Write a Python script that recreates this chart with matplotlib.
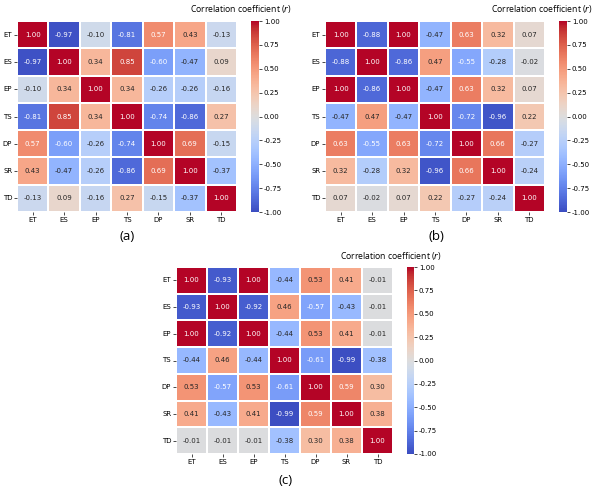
import numpy as np
import matplotlib
matplotlib.use("Agg")
import matplotlib.pyplot as plt
import seaborn as sns

labels = ["ET", "ES", "EP", "TS", "DP", "SR", "TD"]

corr_a = [
    [1.00, -0.97, -0.10, -0.81, 0.57, 0.43, -0.13],
    [-0.97, 1.00, 0.34, 0.85, -0.60, -0.47, 0.09],
    [-0.10, 0.34, 1.00, 0.34, -0.26, -0.26, -0.16],
    [-0.81, 0.85, 0.34, 1.00, -0.74, -0.86, 0.27],
    [0.57, -0.60, -0.26, -0.74, 1.00, 0.69, -0.15],
    [0.43, -0.47, -0.26, -0.86, 0.69, 1.00, -0.37],
    [-0.13, 0.09, -0.16, 0.27, -0.15, -0.37, 1.00],
]

corr_b = [
    [1.00, -0.88, 1.00, -0.47, 0.63, 0.32, 0.07],
    [-0.88, 1.00, -0.86, 0.47, -0.55, -0.28, -0.02],
    [1.00, -0.86, 1.00, -0.47, 0.63, 0.32, 0.07],
    [-0.47, 0.47, -0.47, 1.00, -0.72, -0.96, 0.22],
    [0.63, -0.55, 0.63, -0.72, 1.00, 0.66, -0.27],
    [0.32, -0.28, 0.32, -0.96, 0.66, 1.00, -0.24],
    [0.07, -0.02, 0.07, 0.22, -0.27, -0.24, 1.00],
]

corr_c = [
    [1.00, -0.93, 1.00, -0.44, 0.53, 0.41, -0.01],
    [-0.93, 1.00, -0.92, 0.46, -0.57, -0.43, -0.01],
    [1.00, -0.92, 1.00, -0.44, 0.53, 0.41, -0.01],
    [-0.44, 0.46, -0.44, 1.00, -0.61, -0.99, -0.38],
    [0.53, -0.57, 0.53, -0.61, 1.00, 0.59, 0.30],
    [0.41, -0.43, 0.41, -0.99, 0.59, 1.00, 0.38],
    [-0.01, -0.01, -0.01, -0.38, 0.30, 0.38, 1.00],
]

W, H = 602, 496
fig = plt.figure(figsize=(W / 100, H / 100), dpi=100)


def px(x0, y0, x1, y1):
    # pixel box (top-left origin) -> figure fraction
    return [x0 / W, 1 - y1 / H, (x1 - x0) / W, (y1 - y0) / H]


panels = [
    (corr_a, (17, 21, 237, 212), (251, 21, 259, 212), (292, 9), (127, 237), "(a)"),
    (corr_b, (325, 21, 545, 212), (559, 21, 567, 212), (593, 9), (436, 237), "(b)"),
    (corr_c, (176, 267, 393, 454), (407, 267, 414, 454), (442, 256), (286, 481), "(c)"),
]
title = "Correlation coefficient ($\\it{r}$)"

for data, hbox, cbox, tpos, lpos, letter in panels:
    ax = fig.add_axes(px(*hbox))
    cax = fig.add_axes(px(*cbox))
    sns.heatmap(np.array(data), ax=ax, cbar_ax=cax, cmap="coolwarm", vmin=-1, vmax=1,
                annot=True, fmt=".2f", annot_kws={"size": 5},
                linewidths=0.3, linecolor="white",
                xticklabels=labels, yticklabels=labels)
    ax.tick_params(labelsize=5, length=2, width=0.5, pad=1.5)
    ax.set_yticklabels(labels, rotation=0)
    cax.tick_params(labelsize=5, length=2, width=0.5, pad=1.5)
    cax.set_yticks(np.arange(-1, 1.01, 0.25))
    cax.set_yticklabels(["%.2f" % v for v in np.arange(-1, 1.01, 0.25)])
    for s in cax.spines.values():
        s.set_visible(False)
    fig.text(tpos[0] / W, 1 - tpos[1] / H, title, ha="right", va="center",
             fontsize=6.2, family="Open Sans")
    fig.text(lpos[0] / W, 1 - lpos[1] / H, letter, ha="center", va="center",
             fontsize=9.5, family="Open Sans")

fig.savefig("out.png", dpi=100)
